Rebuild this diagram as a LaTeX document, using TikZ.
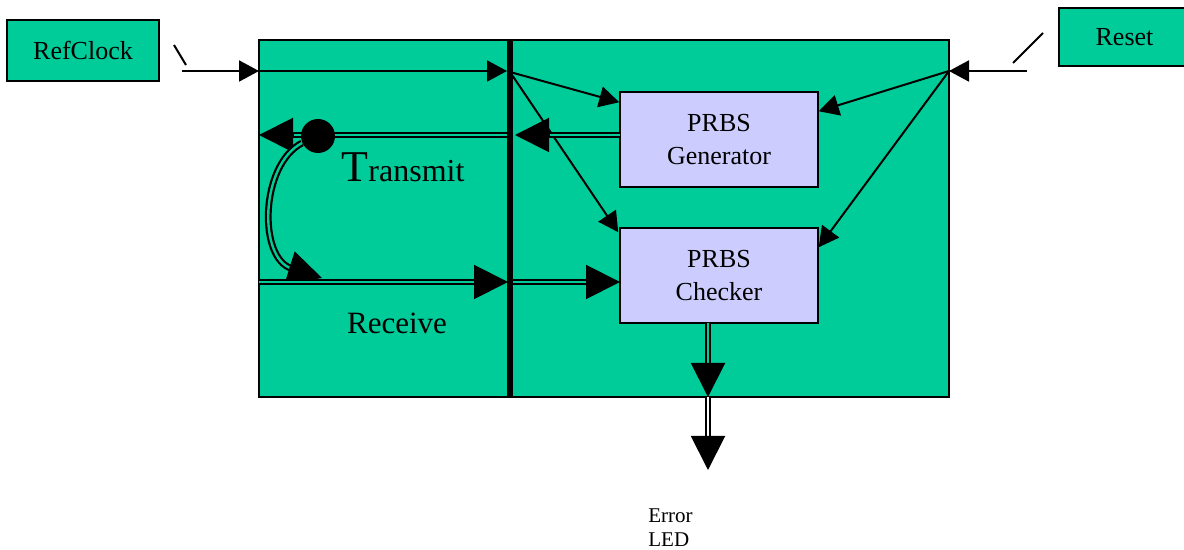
\documentclass[tikz,border=0pt]{standalone}
\usepackage{fontspec}
\setmainfont{Liberation Serif}
\usetikzlibrary{arrows.meta,calc}
\definecolor{boardgreen}{RGB}{0,204,153}
\definecolor{prbsblue}{RGB}{204,204,255}

% double line with a big filled head
\newcommand{\bigarrow}[3][boardgreen]{%
  \draw[dbl,double=#1,shorten >=16pt] (#2) -- (#3);
  \draw[bigtip] ($(#3)!17pt!(#2)$) -- (#3);}

\begin{document}
\begin{tikzpicture}[x=0.5pt,y=-0.5pt,
    box/.style={draw,line width=0.75pt,fill=boardgreen,inner sep=0pt,font=\fontsize{13}{16}\selectfont},
    prbs/.style={draw,line width=0.75pt,fill=prbsblue,align=center,minimum width=99pt,minimum height=47.5pt,font=\fontsize{13}{16.5}\selectfont},
    sig/.style={line width=1pt,-{Triangle[length=10pt,width=10.5pt]}},
    dbl/.style={double=boardgreen,double distance=1.2pt,line width=1.1pt},
    bigtip/.style={line width=1pt,-{Triangle[length=17pt,width=17pt]}}]
        \useasboundingbox (0,0) rectangle (1184,550);
        \draw[line width=0.75pt,fill=boardgreen] (259,40) rectangle (949,397);
        \draw[line width=3pt] (510,40) -- (510,397);

        \node[box,minimum width=76pt,minimum height=30.5pt] (refclk) at (83,50.5) {RefClock};
        \node[box,minimum width=65.5pt,minimum height=29pt] (reset) at (1124.5,37) {Reset};
        \node[prbs] (gen) at (719,139.5) {PRBS\\Generator};
        \node[prbs] (chk) at (719,275.5) {PRBS\\Checker};

        \coordinate (clkin) at (182,71);
        \coordinate (clkedge) at (259,71);
        \coordinate (clkbar) at (507,71);
        \coordinate (clkhub) at (510,72);
        \coordinate (rstin) at (1027,71);
        \coordinate (rsthub) at (949,71);
        \coordinate (txgen) at (620,135);
        \coordinate (txbar) at (515,135);
        \coordinate (txhub) at (507,135);
        \coordinate (txedge) at (259,135);
        \coordinate (loopst) at (302,143);
        \coordinate (lc1) at (260,165);
        \coordinate (lc2) at (258,258);
        \coordinate (rxloop) at (322,278);
        \coordinate (rxedge) at (259,282);
        \coordinate (rxbar) at (508,282);
        \coordinate (rxhub) at (513,282);
        \coordinate (rxchk) at (620,282);
        \coordinate (errchk) at (708,323);
        \coordinate (erredge) at (708,397);
        \coordinate (errout) at (708,470);

        \draw[line width=1pt] (174,45) -- (186,65);
        \draw[line width=1pt] (1013,63) -- (1043,33);
        \draw[sig] (clkin) -- (clkedge);
        \draw[sig] (clkedge) -- (clkbar);
        \draw[sig] (clkhub) -- ($(gen.north west)+(0,11)$);
        \draw[sig] (clkhub) -- ($(chk.north west)+(-1,5)$);
        \draw[sig] (rstin) -- (rsthub);
        \draw[sig] (rsthub) -- ($(gen.north east)+(0,20)$);
        \draw[sig] (rsthub) -- ($(chk.north east)+(0,20)$);

        \bigarrow{txgen}{txbar}
        \bigarrow{txhub}{txedge}
        \draw[dbl,shorten >=16pt] (loopst) .. controls (lc1) and (lc2) .. (rxloop);
        \draw[bigtip] ($(rxloop)!17pt!(lc2)$) -- (rxloop);
        \bigarrow{rxedge}{rxbar}
        \bigarrow{rxhub}{rxchk}
        \bigarrow{errchk}{erredge}
        \bigarrow[white]{erredge}{errout}
        \node[circle,fill,inner sep=0pt,minimum size=17pt] (txdot) at (318,136) {};

        \node[anchor=base,inner sep=0pt] (txlabel) at (403,182)
	{{\fontsize{22}{22}\selectfont T}{\fontsize{16}{16}\selectfont ransmit}};
        \node[anchor=base,inner sep=0pt,font=\fontsize{15.5}{18}\selectfont] (rxlabel) at (397,334) {Receive};
        \node[anchor=north west,inner sep=0pt,align=left,font=\fontsize{10.5}{12}\selectfont] (errled) at (648,508) {Error\\LED};
\end{tikzpicture}
\end{document}
